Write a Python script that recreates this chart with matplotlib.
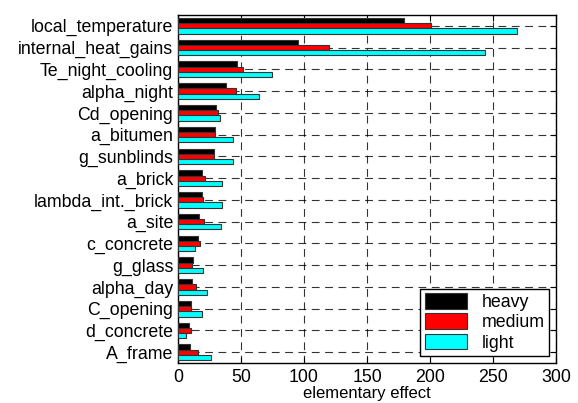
import numpy as np
import matplotlib
matplotlib.use('Agg')
import matplotlib.pyplot as plt

plt.rcParams['font.family'] = ['Liberation Sans', 'DejaVu Sans']

categories = ['local_temperature', 'internal_heat_gains', 'Te_night_cooling', 'alpha_night',
              'Cd_opening', 'a_bitumen', 'g_sunblinds', 'a_brick', 'lambda_int._brick',
              'a_site', 'c_concrete', 'g_glass', 'alpha_day', 'C_opening', 'd_concrete', 'A_frame']
heavy = [179, 95.5, 46.8, 38.4, 30.2, 29.1, 28.6, 19.0, 18.8, 16.9, 16.1, 11.9, 11.1, 10.6, 9.0, 9.3]
medium = [200.5, 119.6, 51.9, 45.8, 31.5, 29.6, 28.3, 21.4, 19.6, 20.4, 17.5, 10.8, 14.6, 10.6, 10.1, 15.9]
light = [269, 243.4, 74.9, 64.0, 33.6, 43.4, 44.0, 35.2, 34.7, 33.9, 13.8, 19.6, 23.0, 18.8, 6.1, 26.5]
series = ['heavy', 'medium', 'light']
colors = ['black', 'red', 'cyan']

fig = plt.figure(figsize=(5.78, 4.03), dpi=100)
ax = fig.add_axes([0.308, 0.099, 0.654, 0.864])

n = len(categories)
y = np.arange(n)[::-1] + 1  # top category at top
h = 0.24
for i, (vals, lab, c) in enumerate(zip([heavy, medium, light], series, colors)):
    ax.barh(y + (1 - i) * h, vals, height=h, color=c, edgecolor='#333333',
            linewidth=0.8, label=lab, zorder=3)

ax.set_ylim(0.5, n + 0.5)
ax.set_xlim(0, 300)
ax.set_yticks(y)
ax.set_yticklabels(categories, fontsize=12.8)
ax.set_xticks([0, 50, 100, 150, 200, 250, 300])
ax.tick_params(axis='x', labelsize=12.8, pad=4)
ax.tick_params(direction='in', top=True, right=True, length=4, width=0.8)
ax.set_xlabel('elementary effect', fontsize=12, labelpad=0)
ax.grid(True, color='black', linestyle=(0, (7, 5)), linewidth=0.8, alpha=0.8, zorder=1)
ax.set_axisbelow(True)
for s in ax.spines.values():
    s.set_linewidth(1.0)

leg = ax.legend(loc='lower right', fontsize=12.8, fancybox=False, framealpha=1,
                edgecolor='black', borderpad=0.25, handlelength=2.4, handleheight=1.0,
                labelspacing=0.12, borderaxespad=0.4)
leg.get_frame().set_linewidth(1.0)

fig.savefig('out.png', dpi=100)
